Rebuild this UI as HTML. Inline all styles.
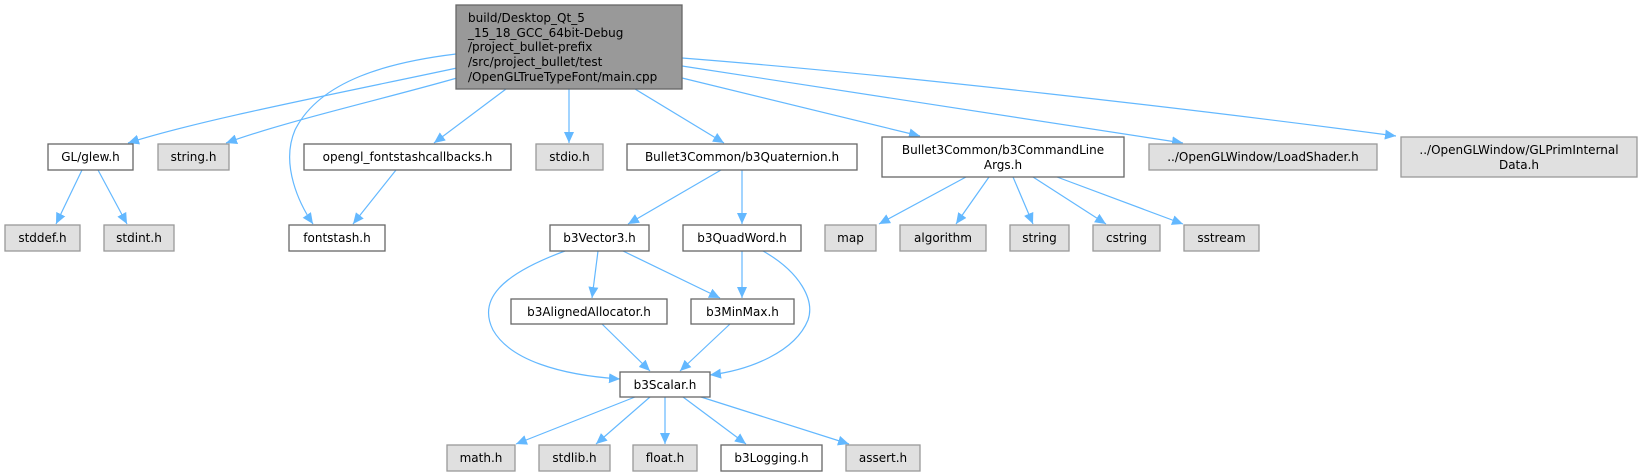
<!DOCTYPE html>
<html><head><meta charset="utf-8"><style>
html,body{margin:0;padding:0;background:#fff;}
svg{display:block;}
text{font-family:"DejaVu Sans","Liberation Sans",sans-serif;font-size:12px;fill:#000;}
.w{fill:#fff;stroke:#666;stroke-width:1.3}
.g{fill:#e0e0e0;stroke:#999;stroke-width:1.3}
.e{fill:none;stroke:#63b8ff;stroke-width:1.2}
</style></head><body>
<svg width="1641" height="476" viewBox="0 0 1641 476" xmlns="http://www.w3.org/2000/svg">
<defs>
<marker id="a" markerUnits="userSpaceOnUse" markerWidth="12" markerHeight="10" refX="11" refY="5" orient="auto">
<path d="M0,0 L11,5 L0,10 z" fill="#63b8ff"/>
</marker>
</defs>
<g marker-end="url(#a)">
<path class="e" d="M457,68 C330,95 200,120 128,143"/>
<path class="e" d="M457,78 C380,100 290,120 226,143"/>
<path class="e" d="M456,54 C390,62 320,80 295,130 C280,165 300,205 313,224"/>
<path class="e" d="M506,89 L434,143"/>
<path class="e" d="M569,89 L569,143"/>
<path class="e" d="M635,89 L724,143"/>
<path class="e" d="M682,78 L920,136"/>
<path class="e" d="M682,66 L1183,143"/>
<path class="e" d="M682,58 C900,75 1200,110 1396,136"/>
<path class="e" d="M396,170 L353,224"/>
<path class="e" d="M82,170 L56,224"/>
<path class="e" d="M98,170 L127,224"/>
<path class="e" d="M721,170 L628,224"/>
<path class="e" d="M742,170 L742,224"/>
<path class="e" d="M966,177 L879,224"/>
<path class="e" d="M989,177 L956,224"/>
<path class="e" d="M1013,177 L1033,224"/>
<path class="e" d="M1033,177 L1106,224"/>
<path class="e" d="M1057,177 L1183,224"/>
<path class="e" d="M565,251 C500,275 478,300 493,330 C510,360 560,375 620,379"/>
<path class="e" d="M598,251 L592,298"/>
<path class="e" d="M623,251 L720,298"/>
<path class="e" d="M742,251 L742,298"/>
<path class="e" d="M763,251 C800,272 815,300 808,320 C795,352 750,370 710,375"/>
<path class="e" d="M602,324 L650,371"/>
<path class="e" d="M730,324 L680,371"/>
<path class="e" d="M635,397 L516,444"/>
<path class="e" d="M650,397 L596,444"/>
<path class="e" d="M665,397 L665,444"/>
<path class="e" d="M683,397 L746,444"/>
<path class="e" d="M701,397 L849,444"/>
</g>
<!-- main -->
<rect x="456" y="5" width="226" height="84" fill="#999" stroke="#666" stroke-width="1.3"/>
<text x="468" y="22">build/Desktop_Qt_5</text>
<text x="468" y="37">_15_18_GCC_64bit-Debug</text>
<text x="468" y="51">/project_bullet-prefix</text>
<text x="468" y="66">/src/project_bullet/test</text>
<text x="468" y="81">/OpenGLTrueTypeFont/main.cpp</text>
<g text-anchor="middle">
<rect class="w" x="48" y="144" width="85" height="26"/><text x="90.5" y="161">GL/glew.h</text>
<rect class="g" x="158" y="144" width="71" height="26"/><text x="193.5" y="161">string.h</text>
<rect class="w" x="304" y="144" width="207" height="26"/><text x="407.5" y="161">opengl_fontstashcallbacks.h</text>
<rect class="g" x="536" y="144" width="67" height="26"/><text x="569.5" y="161">stdio.h</text>
<rect class="w" x="627" y="144" width="230" height="26"/><text x="742" y="161">Bullet3Common/b3Quaternion.h</text>
<rect class="w" x="882" y="137" width="242" height="40"/><text x="1003" y="154">Bullet3Common/b3CommandLine</text><text x="1003" y="169">Args.h</text>
<rect class="g" x="1149" y="144" width="228" height="26"/><text x="1263" y="161">../OpenGLWindow/LoadShader.h</text>
<rect class="g" x="1401" y="137" width="236" height="40"/><text x="1519" y="154">../OpenGLWindow/GLPrimInternal</text><text x="1519" y="169">Data.h</text>
<rect class="g" x="5" y="225" width="75" height="26"/><text x="42.5" y="242">stddef.h</text>
<rect class="g" x="104" y="225" width="70" height="26"/><text x="139" y="242">stdint.h</text>
<rect class="w" x="289" y="225" width="96" height="26"/><text x="337" y="242">fontstash.h</text>
<rect class="w" x="550" y="225" width="99" height="26"/><text x="599.5" y="242">b3Vector3.h</text>
<rect class="w" x="683" y="225" width="118" height="26"/><text x="742" y="242">b3QuadWord.h</text>
<rect class="g" x="825" y="225" width="51" height="26"/><text x="850.5" y="242">map</text>
<rect class="g" x="900" y="225" width="86" height="26"/><text x="943" y="242">algorithm</text>
<rect class="g" x="1010" y="225" width="59" height="26"/><text x="1039.5" y="242">string</text>
<rect class="g" x="1093" y="225" width="67" height="26"/><text x="1126.5" y="242">cstring</text>
<rect class="g" x="1184" y="225" width="75" height="26"/><text x="1221.5" y="242">sstream</text>
<rect class="w" x="511" y="299" width="156" height="25"/><text x="589" y="316">b3AlignedAllocator.h</text>
<rect class="w" x="691" y="299" width="103" height="25"/><text x="742.5" y="316">b3MinMax.h</text>
<rect class="w" x="620" y="372" width="90" height="25"/><text x="665" y="389">b3Scalar.h</text>
<rect class="g" x="447" y="445" width="68" height="26"/><text x="481" y="462">math.h</text>
<rect class="g" x="539" y="445" width="71" height="26"/><text x="574.5" y="462">stdlib.h</text>
<rect class="g" x="633" y="445" width="64" height="26"/><text x="665" y="462">float.h</text>
<rect class="w" x="721" y="445" width="101" height="26"/><text x="771.5" y="462">b3Logging.h</text>
<rect class="g" x="846" y="445" width="74" height="26"/><text x="883" y="462">assert.h</text>
</g>
</svg>
</body></html>
